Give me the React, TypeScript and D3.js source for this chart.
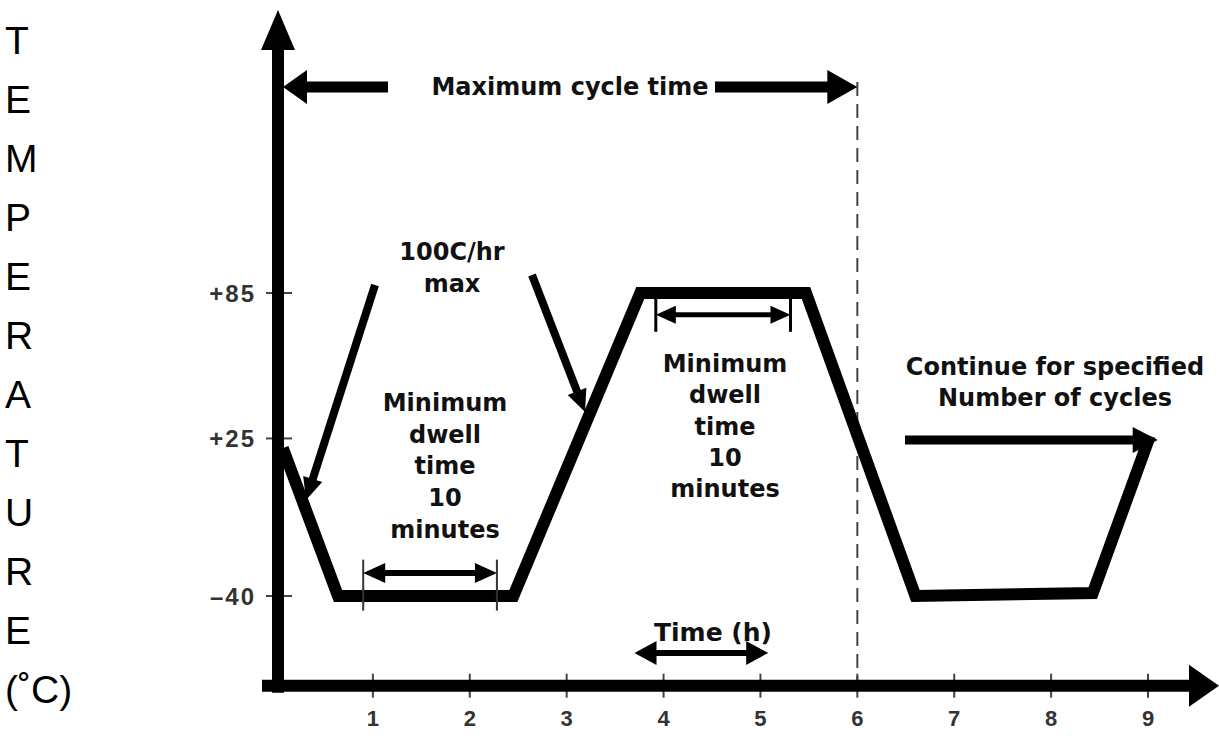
import React from "react";
import * as d3 from "d3";

// ---- data ----
const hours = [0.07, 0.64, 2.45, 3.76, 5.47, 6.6, 8.43, 9.02];
const temps = [21, -40, -40, 85, 85, -40, -38.8, 26];
const xTicks = [1, 2, 3, 4, 5, 6, 7, 8, 9];
const yTicks = [85, 25, -40];
const yTickLabels = ["+85", "+25", "–40"];
const axisTitleLetters = ["T", "E", "M", "P", "E", "R", "A", "T", "U", "R", "E", "(˚C)"];
const rateNote = ["100C/hr", "max"];
const dwellNote = ["Minimum", "dwell", "time", "10", "minutes"];
const continueNote = ["Continue for specified", "Number of cycles"];
const cycleNote = "Maximum cycle time";
const xTitle = "Time (h)";

const W = 1219;
const H = 740;
const FONT = "'DejaVu Sans', Verdana, sans-serif";

type ArrowProps = {
  x1: number; y1: number; x2: number; y2: number;
  w: number; hl: number; hw: number; both?: boolean; color?: string;
};

function Arrow({ x1, y1, x2, y2, w, hl, hw, both, color = "#000" }: ArrowProps) {
  const dx = x2 - x1, dy = y2 - y1;
  const len = Math.hypot(dx, dy);
  const ux = dx / len, uy = dy / len;
  const px = -uy, py = ux;
  const head = (tx: number, ty: number, dirx: number, diry: number) => {
    const bx = tx - dirx * hl, by = ty - diry * hl;
    return `${tx},${ty} ${bx + px * hw},${by + py * hw} ${bx - px * hw},${by - py * hw}`;
  };
  const sx = both ? x1 + ux * (hl - 1) : x1;
  const sy = both ? y1 + uy * (hl - 1) : y1;
  const ex = x2 - ux * (hl - 1), ey = y2 - uy * (hl - 1);
  return (
    <g>
      <line x1={sx} y1={sy} x2={ex} y2={ey} stroke={color} strokeWidth={w} />
      <polygon points={head(x2, y2, ux, uy)} fill={color} />
      {both && <polygon points={head(x1, y1, -ux, -uy)} fill={color} />}
    </g>
  );
}

export default function App() {
  const x = d3.scaleLinear().domain([0, 9]).range([276, 1148]);
  const y = d3.scaleLinear().domain([-40, 85]).range([596, 293]);

  const line = d3
    .line<number>()
    .x((_, i) => x(hours[i]))
    .y((d) => y(d));

  const axisX = x(0) + 2;
  const axisY = y(-77);

  const textStyle = { fontFamily: FONT, fontWeight: 700, fontSize: 24, fill: "#111" } as const;
  const tickFont = { fontFamily: "'Liberation Sans', Arial, sans-serif", fontWeight: 700, fill: "#333" } as const;

  return (
    <div style={{ position: "absolute", left: 0, top: 0 }}>
      <svg width={W} height={H} style={{ display: "block", background: "#fff" }}>
        {/* y-axis title stacked */}
        {axisTitleLetters.map((l, i) => (
          <text
            key={i}
            x={5}
            y={40 + i * 59}
            dominantBaseline="central"
            style={{ fontFamily: "'Liberation Sans', Arial, sans-serif", fontSize: 39, fill: "#000" }}
          >
            {l}
          </text>
        ))}

        {/* dashed cycle line */}
        <line
          x1={x(6)} x2={x(6)} y1={y(172)} y2={axisY}
          stroke="#444" strokeWidth={2} strokeDasharray="14 8"
        />

        {/* y ticks */}
        {yTicks.map((t, i) => (
          <g key={t}>
            <line x1={axisX - 12} x2={axisX + 14} y1={y(t)} y2={y(t)} stroke="#444" strokeWidth={2} />
            <text
              x={256}
              y={y(t)}
              textAnchor="end"
              dominantBaseline="central"
              style={{ ...tickFont, fontSize: 24, letterSpacing: 2 }}
            >
              {yTickLabels[i]}
            </text>
          </g>
        ))}

        {/* x ticks */}
        {xTicks.map((t) => (
          <g key={t}>
            <line x1={x(t)} x2={x(t)} y1={axisY - 12} y2={axisY + 12} stroke="#444" strokeWidth={2} />
            <text
              x={x(t)}
              y={axisY + 33}
              textAnchor="middle"
              dominantBaseline="central"
              style={{ ...tickFont, fontSize: 22 }}
            >
              {t}
            </text>
          </g>
        ))}

        {/* axes */}
        <Arrow x1={axisX} y1={axisY + 7} x2={axisX} y2={10} w={12} hl={40} hw={17} />
        <Arrow x1={262} y1={axisY} x2={1219} y2={axisY} w={12} hl={30} hw={21} />

        {/* profile */}
        <path
          d={line(temps) || ""}
          fill="none"
          stroke="#000"
          strokeWidth={12}
          strokeLinejoin="miter"
          strokeLinecap="butt"
        />

        {/* Maximum cycle time */}
        <Arrow x1={388} y1={y(170)} x2={axisX + 5} y2={y(170)} w={11} hl={24} hw={17} />
        <Arrow x1={715} y1={y(170)} x2={x(6)} y2={y(170)} w={11} hl={30} hw={17} />
        <text x={570} y={y(170)} textAnchor="middle" dominantBaseline="central" style={textStyle}>
          {cycleNote}
        </text>

        {/* 100C/hr max */}
        {rateNote.map((l, i) => (
          <text key={l} x={452} y={252 + i * 32} textAnchor="middle" dominantBaseline="central" style={textStyle}>
            {l}
          </text>
        ))}
        <Arrow x1={375} y1={285} x2={306} y2={500} w={8} hl={22} hw={10} />
        <Arrow x1={532} y1={275} x2={585} y2={412} w={8} hl={22} hw={10} />

        {/* left dwell */}
        {dwellNote.map((l, i) => (
          <text key={"l" + i} x={445} y={403 + i * 31.7} textAnchor="middle" dominantBaseline="central" style={textStyle}>
            {l}
          </text>
        ))}
        <line x1={x(0.9)} x2={x(0.9)} y1={y(-25)} y2={y(-46)} stroke="#333" strokeWidth={2} />
        <line x1={x(2.28)} x2={x(2.28)} y1={y(-25)} y2={y(-46)} stroke="#333" strokeWidth={2} />
        <Arrow x1={x(0.9)} y1={y(-30.5)} x2={x(2.28)} y2={y(-30.5)} w={6} hl={22} hw={10} both />

        {/* right dwell */}
        {dwellNote.map((l, i) => (
          <text key={"r" + i} x={725} y={364 + i * 31.3} textAnchor="middle" dominantBaseline="central" style={textStyle}>
            {l}
          </text>
        ))}
        <line x1={x(3.92)} x2={x(3.92)} y1={y(83)} y2={y(69)} stroke="#000" strokeWidth={3} />
        <line x1={x(5.31)} x2={x(5.31)} y1={y(83)} y2={y(69)} stroke="#000" strokeWidth={3} />
        <Arrow x1={x(3.92)} y1={y(76)} x2={x(5.31)} y2={y(76)} w={5} hl={20} hw={9} both />

        {/* continue */}
        {continueNote.map((l, i) => (
          <text key={l} x={1055} y={367 + i * 31} textAnchor="middle" dominantBaseline="central" style={textStyle}>
            {l}
          </text>
        ))}
        <Arrow x1={905} y1={y(24.4)} x2={x(9.1)} y2={y(24.4)} w={9} hl={25} hw={13} />

        {/* x title */}
        <text x={713} y={632} textAnchor="middle" dominantBaseline="central" style={{ ...textStyle, fontSize: 25 }}>
          {xTitle}
        </text>
        <Arrow x1={x(3.7)} y1={y(-63.5)} x2={x(5.08)} y2={y(-63.5)} w={6} hl={22} hw={12} both />
      </svg>
    </div>
  );
}
